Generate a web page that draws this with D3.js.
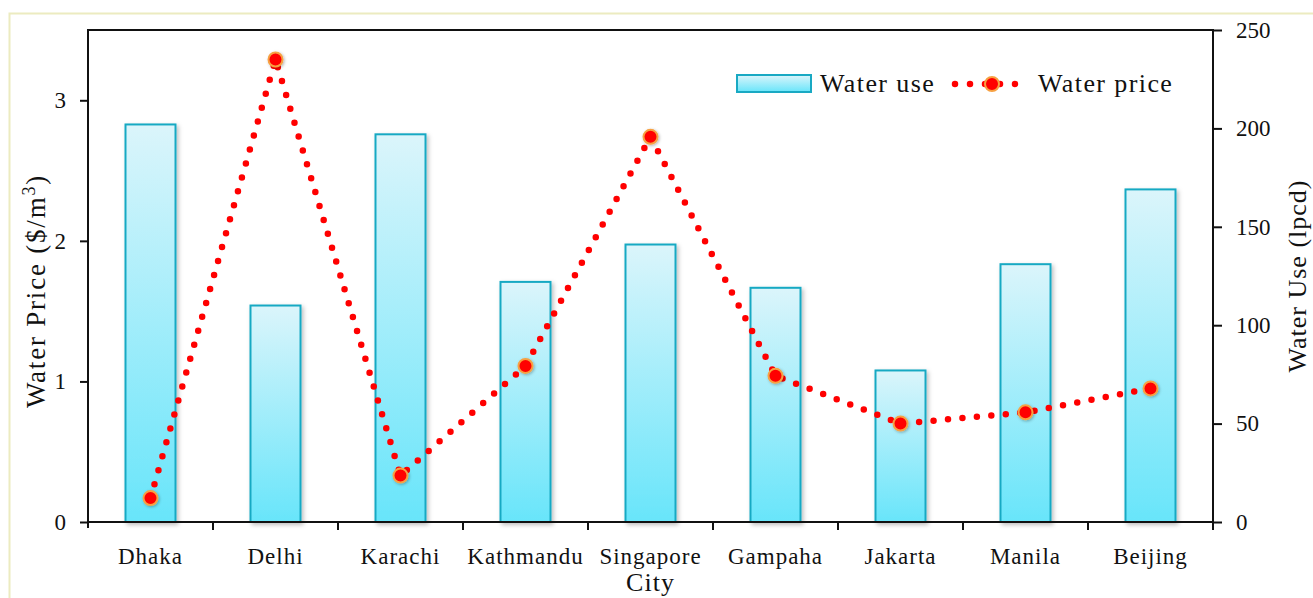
<!DOCTYPE html>
<html>
<head>
<meta charset="utf-8">
<script src="https://cdn.jsdelivr.net/npm/d3@7"></script>
<style>
  body { margin: 0; background: #fff; }
  text { font-family: "Liberation Serif", "Times New Roman", serif; fill: #111; }
</style>
</head>
<body>
<div id="graphique"></div>
<script>
// donnees
const villes = ["Dhaka", "Delhi", "Karachi", "Kathmandu", "Singapore", "Gampaha", "Jakarta", "Manila", "Beijing"];
const waterUse = [202, 110, 197, 122, 141, 119, 77, 131, 169];
const waterPrice = [0.17, 3.29, 0.33, 1.11, 2.74, 1.04, 0.70, 0.78, 0.95];
const ticksPrix = [0, 1, 2, 3];
const ticksUse = [0, 50, 100, 150, 200, 250];

const W = 1313, H = 598;
const marge = { left: 88, right: 100, top: 30, bottom: 76 };

let svg = d3.select("#graphique").append("svg")
    .attr("width", W)
    .attr("height", H);

let defs = svg.append("defs");
let grad = defs.append("linearGradient")
    .attr("id", "gradBar")
    .attr("x1", 0).attr("y1", 0).attr("x2", 0).attr("y2", 1);
grad.append("stop").attr("offset", "0%").attr("stop-color", "#dbf5fb");
grad.append("stop").attr("offset", "100%").attr("stop-color", "#68e5fa");

let ombre = defs.append("filter").attr("id", "ombre")
    .attr("x", "-20%").attr("y", "-20%").attr("width", "150%").attr("height", "150%");
ombre.append("feDropShadow")
    .attr("dx", 2).attr("dy", 2).attr("stdDeviation", 2)
    .attr("flood-color", "#000").attr("flood-opacity", 0.25);

let glow = defs.append("filter").attr("id", "glow")
    .attr("x", "-50%").attr("y", "-50%").attr("width", "200%").attr("height", "200%");
glow.append("feDropShadow")
    .attr("dx", 1).attr("dy", 1).attr("stdDeviation", 1.5)
    .attr("flood-color", "#000").attr("flood-opacity", 0.3);

// cadre exterieur (bord de la capture)
svg.append("path")
    .attr("d", "M9.5," + H + " L9.5,13.5 L" + W + ",13.5")
    .attr("fill", "none")
    .attr("stroke", "#ecebc0")
    .attr("stroke-width", 2);

let x = d3.scaleBand()
    .domain(villes)
    .range([marge.left, W - marge.right]);

let yPrix = d3.scaleLinear().domain([0, 3.5]).range([H - marge.bottom, marge.top]);
let yUse = d3.scaleLinear().domain([0, 250]).range([H - marge.bottom, marge.top]);

const x0 = marge.left, x1 = W - marge.right;
const yBas = H - marge.bottom, yHaut = marge.top;

// barres
let barW = x.bandwidth() * 0.4;
svg.append("g").selectAll("rect")
    .data(villes)
    .enter().append("rect")
    .attr("x", d => x(d) + (x.bandwidth() - barW) / 2)
    .attr("y", (d, i) => yUse(waterUse[i]))
    .attr("width", barW)
    .attr("height", (d, i) => yBas - yUse(waterUse[i]))
    .attr("fill", "url(#gradBar)")
    .attr("stroke", "#19a9c3")
    .attr("stroke-width", 2)
    .attr("filter", "url(#ombre)");

// axes
let axeG = d3.axisLeft(yPrix).tickValues(ticksPrix).tickSize(8).tickPadding(14).tickFormat(d3.format("d"));
let gG = svg.append("g").attr("transform", "translate(" + x0 + ",0)").call(axeG);
let axeD = d3.axisRight(yUse).tickValues(ticksUse).tickSize(9).tickPadding(14);
let gD = svg.append("g").attr("transform", "translate(" + x1 + ",0)").call(axeD);

let axeX = d3.axisBottom(x).tickSize(0).tickPadding(26);
let gX = svg.append("g").attr("transform", "translate(0," + yBas + ")").call(axeX);

[gG, gD, gX].forEach(g => {
    g.select(".domain").remove();
    g.selectAll("line").attr("stroke", "#111").attr("stroke-width", 2);
    g.selectAll("text").attr("font-size", 23).attr("fill", "#111")
        .attr("font-family", "Liberation Serif, serif");
});
gX.selectAll("text").attr("letter-spacing", 1);

// traits de separation des categories
svg.append("g").selectAll("line")
    .data(villes.slice(1))
    .enter().append("line")
    .attr("x1", d => x(d)).attr("x2", d => x(d))
    .attr("y1", yBas).attr("y2", yBas + 8)
    .attr("stroke", "#111").attr("stroke-width", 2);

// cadre du graphique
svg.append("rect")
    .attr("x", x0).attr("y", yHaut)
    .attr("width", x1 - x0).attr("height", yBas - yHaut)
    .attr("fill", "none").attr("stroke", "#111").attr("stroke-width", 2);
svg.append("line").attr("x1", x0).attr("x2", x0).attr("y1", yBas).attr("y2", yBas + 6)
    .attr("stroke", "#111").attr("stroke-width", 2);
svg.append("line").attr("x1", x1).attr("x2", x1).attr("y1", yBas).attr("y2", yBas + 8)
    .attr("stroke", "#111").attr("stroke-width", 2);

// ligne pointillee du prix
let ligne = d3.line()
    .x((d, i) => x(villes[i]) + x.bandwidth() / 2)
    .y(d => yPrix(d));

svg.append("path")
    .datum(waterPrice)
    .attr("d", ligne)
    .attr("fill", "none")
    .attr("stroke", "#ff0000")
    .attr("stroke-width", 6.5)
    .attr("stroke-linecap", "round")
    .attr("stroke-dasharray", "0 14.5");

svg.append("g").selectAll("circle")
    .data(waterPrice)
    .enter().append("circle")
    .attr("cx", (d, i) => x(villes[i]) + x.bandwidth() / 2)
    .attr("cy", d => yPrix(d))
    .attr("r", 7)
    .attr("fill", "#ff0000")
    .attr("stroke", "#f7a142")
    .attr("stroke-width", 2)
    .attr("filter", "url(#glow)");

// titres des axes
svg.append("text")
    .attr("transform", "translate(45,291) rotate(-90)")
    .attr("text-anchor", "middle")
    .attr("font-size", 27)
    .attr("letter-spacing", 1.8)
    .html('Water Price ($/m<tspan baseline-shift="super" font-size="18">3</tspan>)');

svg.append("text")
    .attr("transform", "translate(1306," + ((yHaut + yBas) / 2) + ") rotate(-90)")
    .attr("text-anchor", "middle")
    .attr("font-size", 26)
    .attr("letter-spacing", 1)
    .text("Water Use (lpcd)");

svg.append("text")
    .attr("x", (x0 + x1) / 2)
    .attr("y", 591)
    .attr("text-anchor", "middle")
    .attr("font-size", 26)
    .attr("letter-spacing", 1)
    .text("City");

// legende
let leg = svg.append("g");
leg.append("rect")
    .attr("x", 737).attr("y", 75).attr("width", 74).attr("height", 17)
    .attr("fill", "url(#gradBar)").attr("stroke", "#19a9c3").attr("stroke-width", 2);
leg.append("text").attr("x", 820).attr("y", 92).attr("font-size", 26).attr("letter-spacing", 1.4).text("Water use");

leg.append("line")
    .attr("x1", 955).attr("x2", 1030).attr("y1", 84).attr("y2", 84)
    .attr("stroke", "#ff0000").attr("stroke-width", 6.5)
    .attr("stroke-linecap", "round").attr("stroke-dasharray", "0 15");
leg.append("circle")
    .attr("cx", 992).attr("cy", 84).attr("r", 7)
    .attr("fill", "#ff0000").attr("stroke", "#f7a142").attr("stroke-width", 2);
leg.append("text").attr("x", 1038).attr("y", 92).attr("font-size", 26).attr("letter-spacing", 1.4).text("Water price");
</script>
</body>
</html>
